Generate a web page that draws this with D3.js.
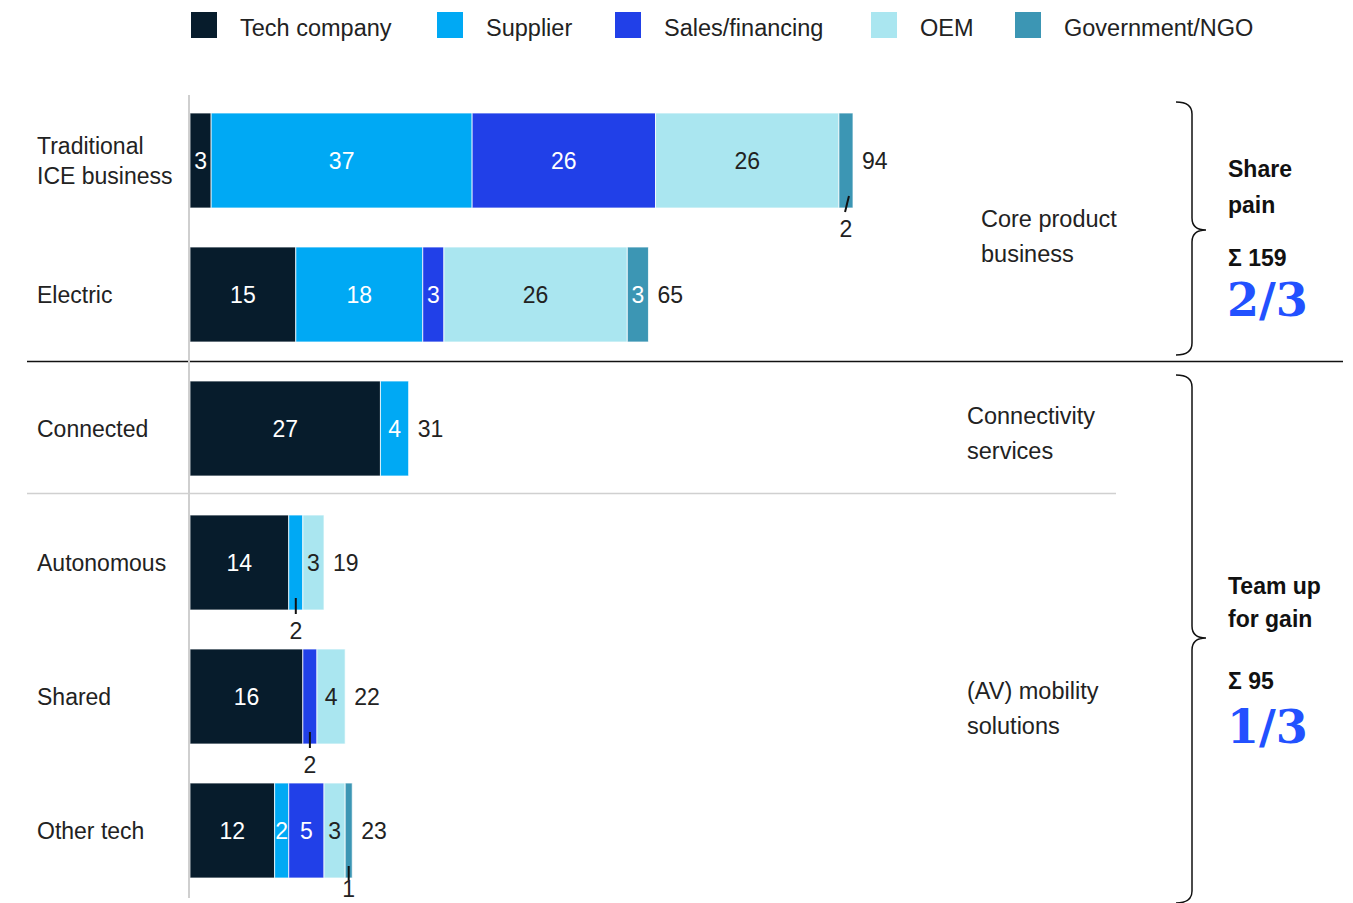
<!DOCTYPE html>
<html>
<head>
<meta charset="utf-8">
<script src="https://cdn.jsdelivr.net/npm/d3@7"></script>
<style>
  html, body { margin: 0; padding: 0; background: #fff; }
  svg { display: block; font-family: "Liberation Sans", Arial, sans-serif; }
</style>
</head>
<body>
<svg id="chart" width="1353" height="903"></svg>
<script>
// Value-pool categories (rows) and partner types (stack segments)
const categories = ["Traditional ICE business", "Electric", "Connected", "Autonomous", "Shared", "Other tech"];
const categoryLines = [["Traditional", "ICE business"], ["Electric"], ["Connected"], ["Autonomous"], ["Shared"], ["Other tech"]];
const seriesNames = ["Tech company", "Supplier", "Sales/financing", "OEM", "Government/NGO"];
const seriesKeys = ["tech", "supplier", "sales", "oem", "gov"];

// Values per partner type, one entry per category
const techCompany = [3, 15, 27, 14, 16, 12];
const supplier    = [37, 18, 4, 2, 0, 2];
const salesFin    = [26, 3, 0, 0, 2, 5];
const oem         = [26, 26, 0, 3, 4, 3];
const govNgo      = [2, 3, 0, 0, 0, 1];
const totals      = [94, 65, 31, 19, 22, 23];

// Small segments whose value is called out beneath the bar: [row, series]
const callouts = [[0, "gov"], [3, "supplier"], [4, "sales"], [5, "gov"]];

// Group annotations
const groupLabels = [
  { lines: ["Core product", "business"] },
  { lines: ["Connectivity", "services"] },
  { lines: ["(AV) mobility", "solutions"] }
];
const summaryBlocks = [
  { title: ["Share", "pain"], sum: "Σ 159", share: "2/3" },
  { title: ["Team up", "for gain"], sum: "Σ 95", share: "1/3" }
];

const colors = {
  tech: "#071c2c",
  supplier: "#00a9f4",
  sales: "#2140e8",
  oem: "#aae6f0",
  gov: "#3c96b4"
};
const labelColors = { tech: "#fff", supplier: "#fff", sales: "#fff", oem: "#222", gov: "#fff" };

const rows = categories.map((c, i) => ({
  category: c,
  tech: techCompany[i],
  supplier: supplier[i],
  sales: salesFin[i],
  oem: oem[i],
  gov: govNgo[i]
}));

const W = 1353, H = 903;
const svg = d3.select("#chart");

const x = d3.scaleLinear().domain([0, 94]).range([190, 853]);
const y = d3.scaleBand()
  .domain(categories)
  .range([93.5, 897.5])
  .paddingInner(39 / 134)
  .paddingOuter(39 / 268);

const stacked = d3.stack().keys(seriesKeys)(rows);

// Legend
const legendX = [191, 437, 615, 871, 1015];
const legend = svg.append("g");
seriesKeys.forEach((k, i) => {
  const g = legend.append("g").attr("transform", `translate(${legendX[i]},12)`);
  g.append("rect").attr("width", 26).attr("height", 26).attr("fill", colors[k]);
  g.append("text").attr("x", 49).attr("y", 24)
    .attr("font-size", 23.5).attr("fill", "#222").text(seriesNames[i]);
});

// Separator lines between groups
const gapBetween = (a, b) => (y(categories[a]) + y.bandwidth() + y(categories[b])) / 2;
svg.append("line")
  .attr("x1", 27).attr("x2", 1343)
  .attr("y1", gapBetween(1, 2)).attr("y2", gapBetween(1, 2))
  .attr("stroke", "#111").attr("stroke-width", 1.5);
svg.append("line")
  .attr("x1", 27).attr("x2", 1116)
  .attr("y1", gapBetween(2, 3) - 2).attr("y2", gapBetween(2, 3) - 2)
  .attr("stroke", "#d0d0d0").attr("stroke-width", 1.5);

// Bars
const layers = svg.append("g").selectAll("g")
  .data(stacked)
  .join("g")
  .attr("fill", d => colors[d.key]);

layers.selectAll("rect")
  .data(d => d.map(s => ({ key: d.key, s })))
  .join("rect")
  .filter(d => d.s[1] > d.s[0])
  .attr("x", d => x(d.s[0]))
  .attr("y", d => y(d.s.data.category))
  .attr("width", d => x(d.s[1]) - x(d.s[0]))
  .attr("height", y.bandwidth())
  .attr("stroke", "rgba(255,255,255,0.75)")
  .attr("stroke-width", 1);

// Vertical baseline
svg.append("line")
  .attr("x1", x(0) - 1).attr("x2", x(0) - 1)
  .attr("y1", 95).attr("y2", 898)
  .attr("stroke", "#cfcfcf").attr("stroke-width", 2);

// Segment value labels
const isCallout = (row, key) => callouts.some(c => c[0] === row && c[1] === key);
const labelG = svg.append("g").attr("font-size", 23);
stacked.forEach(layer => {
  layer.forEach((s, row) => {
    const v = s[1] - s[0];
    if (v <= 0) return;
    const cx = (x(s[0]) + x(s[1])) / 2;
    const top = y(s.data.category);
    const bottom = top + y.bandwidth();
    if (isCallout(row, layer.key)) {
      const slant = row === 0 ? 3 : 0;
      const ty = Math.min(bottom + 29, H - 6);
      labelG.append("line")
        .attr("x1", cx + slant).attr("y1", bottom - 12)
        .attr("x2", cx - slant * 0.3).attr("y2", Math.min(bottom + 4, ty - 17))
        .attr("stroke", "#111").attr("stroke-width", 2);
      labelG.append("text")
        .attr("x", cx).attr("y", ty)
        .attr("text-anchor", "middle").attr("fill", "#222")
        .text(v);
    } else {
      labelG.append("text")
        .attr("x", cx).attr("y", top + y.bandwidth() / 2 + 8)
        .attr("text-anchor", "middle")
        .attr("fill", labelColors[layer.key])
        .text(v);
    }
  });
});

// Totals
svg.append("g").attr("font-size", 23).attr("fill", "#222")
  .selectAll("text")
  .data(rows)
  .join("text")
  .attr("x", (d, i) => x(totals[i]) + 9)
  .attr("y", d => y(d.category) + y.bandwidth() / 2 + 8)
  .text((d, i) => totals[i]);

// Category labels
const catG = svg.append("g").attr("font-size", 23).attr("fill", "#222");
categoryLines.forEach((lines, i) => {
  const mid = y(categories[i]) + y.bandwidth() / 2;
  const t = catG.append("text").attr("x", 37)
    .attr("y", mid + 8 - (lines.length - 1) * 15);
  lines.forEach((ln, j) => {
    t.append("tspan").attr("x", 37).attr("dy", j === 0 ? 0 : 30).text(ln);
  });
});

// Group annotation labels
const groupX = [981, 967, 967];
const groupY = [227, 424, 699];
groupLabels.forEach((g, i) => {
  const t = svg.append("text").attr("font-size", 23.5).attr("fill", "#222")
    .attr("x", groupX[i]).attr("y", groupY[i]);
  g.lines.forEach((ln, j) => {
    t.append("tspan").attr("x", groupX[i]).attr("dy", j === 0 ? 0 : 34.5).text(ln);
  });
});

// Curly braces
function bracePath(x0, y0, y1, ym, depth, tip) {
  const r = 12;
  const xs = x0 + depth;
  return [
    `M${x0},${y0}`,
    `Q${xs},${y0} ${xs},${y0 + r}`,
    `L${xs},${ym - r}`,
    `Q${xs},${ym} ${xs + tip},${ym}`,
    `Q${xs},${ym} ${xs},${ym + r}`,
    `L${xs},${y1 - r}`,
    `Q${xs},${y1} ${x0},${y1}`
  ].join(" ");
}
const braces = [
  { y0: 102, y1: 355, ym: 230 },
  { y0: 375, y1: 903, ym: 638 }
];
braces.forEach(b => {
  svg.append("path")
    .attr("d", bracePath(1176, b.y0, b.y1, b.ym, 16, 14))
    .attr("fill", "none").attr("stroke", "#111").attr("stroke-width", 1.5);
});

// Summary blocks
const sumY = [177, 594];
const sigmaY = [266, 689];
const shareY = [316, 743];
summaryBlocks.forEach((b, i) => {
  const t = svg.append("text").attr("font-size", 23).attr("font-weight", "bold")
    .attr("fill", "#111").attr("x", 1228).attr("y", sumY[i]);
  b.title.forEach((ln, j) => {
    t.append("tspan").attr("x", 1228).attr("dy", j === 0 ? 0 : (i === 0 ? 36 : 33)).text(ln);
  });
  svg.append("text").attr("font-size", 23).attr("font-weight", "bold")
    .attr("fill", "#111").attr("x", 1228).attr("y", sigmaY[i]).text(b.sum);
  svg.append("text").attr("font-size", 46).attr("font-weight", "bold")
    .attr("font-family", "'DejaVu Serif', Georgia, serif")
    .attr("fill", "#2251ff").attr("x", 1227).attr("y", shareY[i]).text(b.share);
});
</script>
</body>
</html>
